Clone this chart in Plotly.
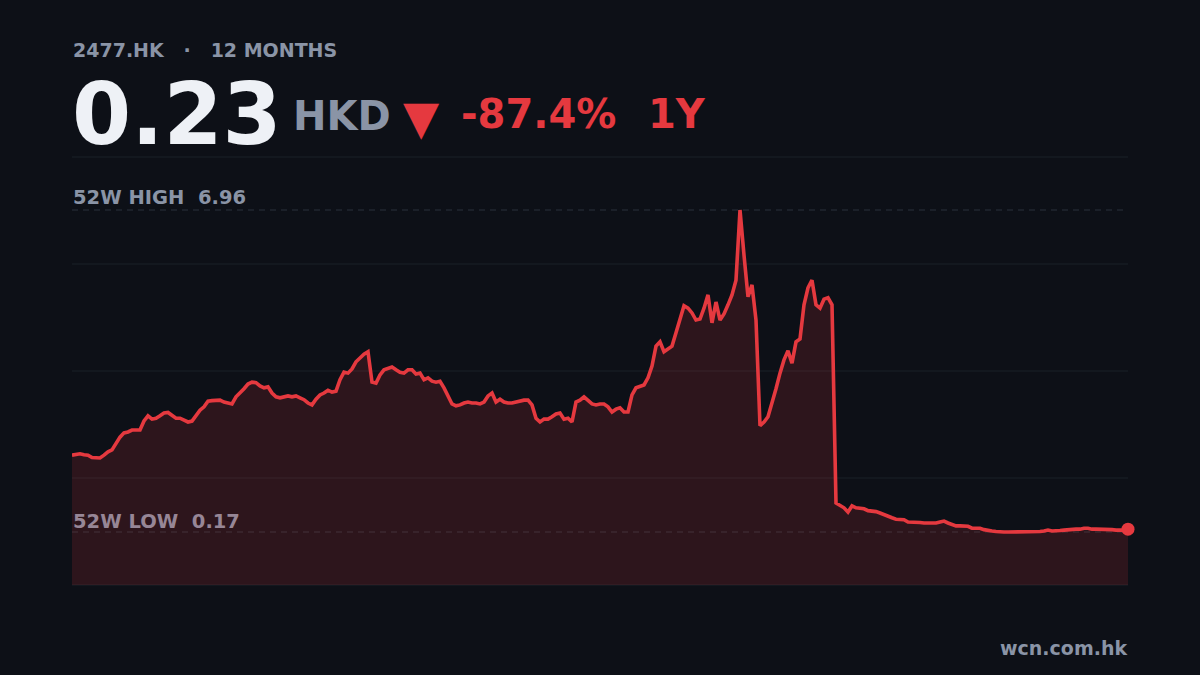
import plotly.graph_objects as go

# header texts
symbol = "2477.HK"
period = "12 MONTHS"
currency = "HKD"
last_price = "0.23"
change_pct = "-87.4%"
range_label = "1Y"
source = "wcn.com.hk"

# daily closes over the last 12 months (HKD)
prices = [
    1.79, 1.80, 1.82, 1.80, 1.79, 1.74, 1.73, 1.73, 1.79, 1.86,
    1.90, 2.03, 2.17, 2.26, 2.28, 2.32, 2.32, 2.32, 2.51, 2.62,
    2.55, 2.57, 2.62, 2.68, 2.69, 2.64, 2.57, 2.57, 2.53, 2.49,
    2.51, 2.64, 2.74, 2.81, 2.93, 2.94, 2.95, 2.95, 2.91, 2.89,
    2.87, 3.02, 3.10, 3.19, 3.29, 3.33, 3.32, 3.25, 3.21, 3.23,
    3.10, 3.02, 3.00, 3.02, 3.04, 3.02, 3.04, 3.00, 2.96, 2.89,
    2.85, 2.97, 3.06, 3.10, 3.16, 3.12, 3.14, 3.38, 3.54, 3.52,
    3.61, 3.76, 3.84, 3.92, 3.97, 3.33, 3.31, 3.48, 3.59, 3.63,
    3.65, 3.59, 3.54, 3.52, 3.59, 3.59, 3.50, 3.52, 3.38, 3.42,
    3.35, 3.33, 3.35, 3.21, 3.02, 2.87, 2.83, 2.85, 2.89, 2.91,
    2.89, 2.89, 2.87, 2.91, 3.04, 3.10, 2.91, 2.97, 2.91, 2.89,
    2.89, 2.91, 2.93, 2.95, 2.95, 2.85, 2.57, 2.49, 2.55, 2.55,
    2.60, 2.66, 2.68, 2.55, 2.57, 2.49, 2.91, 2.95, 3.02, 2.95,
    2.87, 2.85, 2.87, 2.87, 2.81, 2.70, 2.76, 2.79, 2.70, 2.70,
    3.06, 3.21, 3.25, 3.27, 3.42, 3.67, 4.09, 4.18, 3.97, 4.03,
    4.09, 4.37, 4.68, 4.94, 4.89, 4.79, 4.64, 4.66, 4.89, 5.17,
    4.58, 5.02, 4.64, 4.77, 4.96, 5.17, 5.48, 6.96, 6.01, 5.13,
    5.38, 4.64, 2.41, 2.49, 2.60, 2.87, 3.19, 3.52, 3.80, 3.99,
    3.73, 4.18, 4.24, 4.96, 5.32, 5.48, 4.96, 4.89, 5.08, 5.11,
    4.96, 0.78, 0.72, 0.68, 0.59, 0.72, 0.68, 0.67, 0.66, 0.62,
    0.61, 0.60, 0.57, 0.53, 0.49, 0.47, 0.44, 0.44, 0.43, 0.38,
    0.38, 0.38, 0.37, 0.36, 0.36, 0.36, 0.36, 0.38, 0.40, 0.36,
    0.33, 0.30, 0.30, 0.30, 0.29, 0.25, 0.25, 0.25, 0.22, 0.20,
    0.19, 0.18, 0.17, 0.17, 0.17, 0.17, 0.17, 0.17, 0.17, 0.17,
    0.17, 0.17, 0.18, 0.19, 0.21, 0.19, 0.19, 0.20, 0.21, 0.22,
    0.23, 0.23, 0.23, 0.25, 0.25, 0.23, 0.23, 0.23, 0.23, 0.23,
    0.22, 0.21, 0.21, 0.21, 0.23,
]

BG = "#0d1017"
RED = "#e5393f"
GREY = "#8a94a6"
WHITE = "#eef1f6"
GRID = "#1b2029"
FONT = "DejaVu Sans"

days = list(range(len(prices)))
hi, lo = max(prices), min(prices)
pad = (hi - lo) * 0.1646
y_bottom, y_top = lo - pad, hi + pad

# plot box in page pixels, only used to place the header/footer texts
L, R, T, B = 72, 1128, 157, 585


def px(x):
    return (x - L) / (R - L)


def py(y):
    return (B - y) / (B - T)


fig = go.Figure()
# invisible baseline so the area fills down to the bottom of the plot
fig.add_trace(go.Scatter(x=days, y=[y_bottom] * len(days), mode="lines",
                         line=dict(width=0), hoverinfo="skip", showlegend=False))
fig.add_trace(go.Scatter(x=days, y=prices, mode="lines",
                         line=dict(color=RED, width=3.6),
                         fill="tonexty", fillcolor="rgba(229,57,63,0.15)",
                         showlegend=False))
fig.add_trace(go.Scatter(x=[days[-1]], y=[prices[-1]], mode="markers",
                         marker=dict(color=RED, size=13), cliponaxis=False,
                         showlegend=False))

shapes = []
for f in [0, 0.25, 0.5, 0.75, 1]:
    shapes.append(dict(type="line", xref="paper", yref="paper", x0=0, x1=1, y0=f, y1=f,
                       line=dict(color=GRID, width=1), layer="below"))
for v in [hi, lo]:
    shapes.append(dict(type="line", xref="paper", yref="y", x0=0, x1=1, y0=v, y1=v,
                       line=dict(color="#2a303c", width=1, dash="6px,5px"), layer="below"))

nb = "\u00a0"


def label(text, x, y, size, color, anchor="left"):
    return dict(text=text, x=px(x), y=py(y), xref="paper", yref="paper",
                xanchor=anchor, yanchor="middle", showarrow=False,
                font=dict(family=FONT, size=size, color=color, weight="bold"))


annotations = [
    label(f"{symbol}{nb*3}·{nb*3}{period}", 71, 50, 19, GREY),
    label(last_price, 70, 114, 85, WHITE),
    label(currency, 291, 116, 40, GREY),
    label("▼", 421, 117, 47, RED, "center"),
    label(change_pct, 459, 114, 40, RED),
    label(range_label, 646, 114, 40, RED),
    label(f"52W HIGH{nb*2}{hi:.2f}", 71, 197, 19.5, GREY),
    label(f"52W LOW{nb*2}{lo:.2f}", 71, 521, 19.5, "#978696"),
    label(source, 1129, 648, 19, GREY, "right"),
]

fig.update_layout(
    width=1200, height=675,
    margin=dict(l=L, r=1200 - R, t=T, b=675 - B),
    paper_bgcolor=BG, plot_bgcolor=BG,
    xaxis=dict(range=[days[0], days[-1]], visible=False),
    yaxis=dict(range=[y_bottom, y_top], visible=False),
    shapes=shapes, annotations=annotations,
    showlegend=False,
)

fig.write_html("out.html", config={"displayModeBar": False},
               post_script="document.body.style.margin='0';document.body.style.overflow='hidden';")
